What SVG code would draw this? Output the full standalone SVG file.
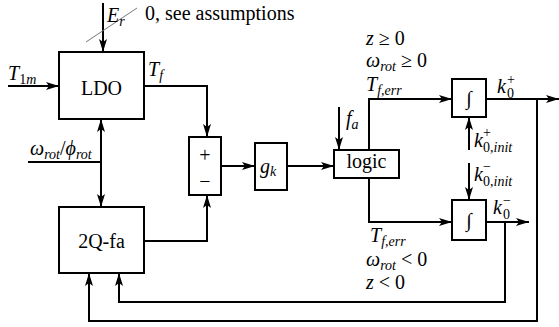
<svg xmlns="http://www.w3.org/2000/svg" width="559" height="327" viewBox="0 0 559 327" font-family="Liberation Serif, Tinos, Times New Roman, Times, Noto Serif, DejaVu Serif, serif">
<style>
.box{fill:#fff;stroke:#000;stroke-width:2}
.ln{fill:none;stroke:#000;stroke-width:2}
text{font-size:20px;fill:#000}
.it{font-style:italic}
.sub{font-size:14px}
</style>
<defs>
<marker id="ah" markerUnits="userSpaceOnUse" markerWidth="14" markerHeight="10" refX="13" refY="4" orient="auto">
<path d="M0,0 L13,4 L0,8 L3,4 z" fill="#000"/>
</marker>
</defs>
<rect width="559" height="327" fill="#fff"/>
<g id="connectors">
<path class="ln" d="M8,86 H59" marker-end="url(#ah)"/>
<path class="ln" d="M103,3 V52" marker-end="url(#ah)"/>
<line x1="86" y1="42" x2="137" y2="8" stroke="#777" stroke-width="1"/>
<path class="ln" d="M144,86 H207 V137" marker-end="url(#ah)"/>
<path class="ln" d="M28,162 H101"/>
<path class="ln" d="M101,162 V119" marker-end="url(#ah)"/>
<path class="ln" d="M101,162 V207" marker-end="url(#ah)"/>
<path class="ln" d="M144,241 H207 V195" marker-end="url(#ah)"/>
<path class="ln" d="M221,166 H255" marker-end="url(#ah)"/>
<path class="ln" d="M287,166 H334" marker-end="url(#ah)"/>
<path class="ln" d="M339,107 V150" marker-end="url(#ah)"/>
<path class="ln" d="M369,150 V99 H452" marker-end="url(#ah)"/>
<path class="ln" d="M369,178 V222 H452" marker-end="url(#ah)"/>
<path class="ln" d="M469,150 V117" marker-end="url(#ah)"/>
<path class="ln" d="M469,163 V200" marker-end="url(#ah)"/>
<path class="ln" d="M486,99 H559" marker-end="url(#ah)"/>
<path class="ln" d="M537,99 V321 H89 V273" marker-end="url(#ah)"/>
<path class="ln" d="M486,222 H529" marker-end="url(#ah)"/>
<path class="ln" d="M505,222 V302 H119 V273" marker-end="url(#ah)"/>
</g>
<g id="LDO">
<rect class="box" x="59" y="52" width="85" height="67"/>
<text x="101.5" y="95" text-anchor="middle">LDO</text>
</g>
<g id="twoQfa">
<rect class="box" x="59" y="207" width="85" height="66"/>
<text x="101.5" y="248" text-anchor="middle">2Q-fa</text>
</g>
<g id="sum">
<rect class="box" x="189" y="137" width="32" height="58"/>
<text x="205" y="162" text-anchor="middle">+</text>
<text x="205" y="188" text-anchor="middle">−</text>
</g>
<g id="gk">
<rect class="box" x="255" y="143" width="32" height="47"/>
<text x="260" y="173" class="it">g<tspan class="sub" dy="3">k</tspan></text>
</g>
<g id="logic">
<rect class="box" x="334" y="150" width="65" height="28"/>
<text x="366.5" y="168" text-anchor="middle">logic</text>
</g>
<g id="intPlus">
<rect class="box" x="452" y="79" width="34" height="38"/>
<text x="469" y="105" text-anchor="middle" class="it">∫</text>
</g>
<g id="intMinus">
<rect class="box" x="452" y="200" width="34" height="40"/>
<text x="469" y="227" text-anchor="middle" class="it">∫</text>
</g>
<g id="labels">
<text x="107" y="22" class="it">E<tspan class="sub" dy="4">r</tspan></text>
<text x="145" y="20">0, see assumptions</text>
<text x="8" y="80" class="it">T<tspan class="sub" dy="4" font-style="normal">1</tspan><tspan class="sub">m</tspan></text>
<text x="148" y="76" class="it">T<tspan class="sub" dy="4">f</tspan></text>
<text x="30" y="155" class="it">ω<tspan class="sub" dy="4">rot</tspan><tspan dy="-4" font-style="normal">/</tspan>ϕ<tspan class="sub" dy="4">rot</tspan></text>
<text x="346" y="125" class="it">f<tspan class="sub" dy="4">a</tspan></text>
<text x="366" y="45"><tspan class="it">z</tspan> ≥ 0</text>
<text x="366" y="67"><tspan class="it">ω</tspan><tspan class="sub it" dy="4">rot</tspan><tspan dy="-4"> ≥ 0</tspan></text>
<text x="366" y="91" class="it">T<tspan class="sub" dy="4">f,err</tspan></text>
<text x="370" y="242" class="it">T<tspan class="sub" dy="4">f,err</tspan></text>
<text x="366" y="266"><tspan class="it">ω</tspan><tspan class="sub it" dy="4">rot</tspan><tspan dy="-4"> &lt; 0</tspan></text>
<text x="366" y="289"><tspan class="it">z</tspan> &lt; 0</text>
<text x="497" y="93" class="it">k</text>
<text x="507" y="98" class="sub">0</text>
<text x="507" y="84" class="sub">+</text>
<text x="493" y="214" class="it">k</text>
<text x="503" y="219" class="sub">0</text>
<text x="503" y="205" class="sub">−</text>
<text x="474" y="147" class="it">k</text>
<text x="483" y="152" class="sub"><tspan>0,</tspan><tspan class="it">init</tspan></text>
<text x="483" y="137" class="sub">+</text>
<text x="474" y="181" class="it">k</text>
<text x="483" y="186" class="sub"><tspan>0,</tspan><tspan class="it">init</tspan></text>
<text x="483" y="171" class="sub">−</text>
</g>
</svg>
